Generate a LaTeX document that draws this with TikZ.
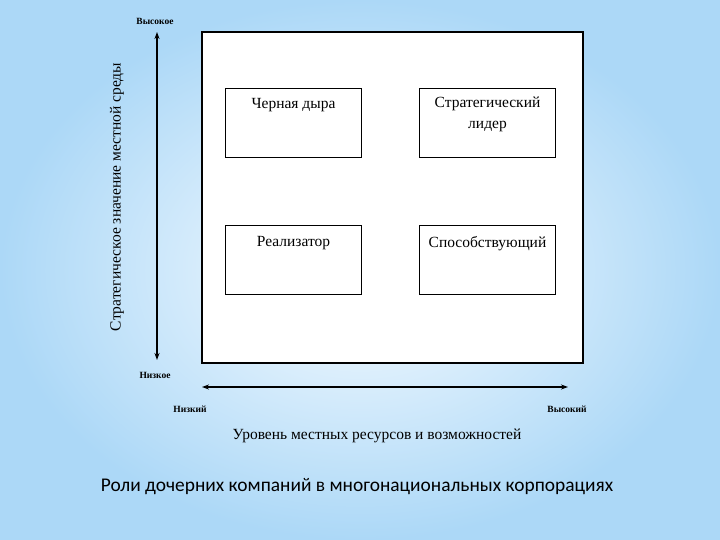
\documentclass[tikz,border=0pt]{standalone}
\usepackage{fontspec}
\setmainfont{Liberation Serif}
\newfontfamily\capfont{Carlito}
\usetikzlibrary{arrows.meta}
\definecolor{bgedge}{RGB}{172,216,247}
\definecolor{bgmid}{RGB}{248,252,255}
\begin{document}
\begin{tikzpicture}[x=1pt,y=-1pt,
  role/.style={draw=black,line width=1.6pt,fill=white,minimum width=136pt,minimum height=69pt,inner sep=0pt},
  rolelabel/.style={font=\fontsize{15.5}{21}\selectfont,align=center,anchor=north},
  axisarrow/.style={line width=1.3pt,{Stealth[length=7pt,width=5pt]}-{Stealth[length=7pt,width=5pt]}},
  ticklabel/.style={font=\fontsize{9.5}{10}\selectfont\bfseries}
]
\useasboundingbox (0,0) rectangle (720,540);
\shade[inner color=bgmid,outer color=bgedge] (0,0) rectangle (720,540);
% outer square
\node[draw=black,line width=1.5pt,fill=white,minimum width=381pt,minimum height=331pt,inner sep=0pt] (frame) at (392.5,197.5) {};
% role boxes
\node[role] (bh) at (293.5,123) {};
\node[rolelabel] at (293.5,95) {Черная дыра};
\node[role] (sl) at (487.5,123) {};
\node[rolelabel] at (487.5,93) {Стратегический\\лидер};
\node[role] (re) at (293.5,260) {};
\node[rolelabel] at (293.5,233) {Реализатор};
\node[role] (sp) at (487.5,260) {};
\node[rolelabel] at (487.5,233) {Способствующий};
% vertical axis
\coordinate (vtop) at (157,32);
\coordinate (vbot) at (157,360);
\draw[axisarrow] (vbot) -- (vtop);
\node[ticklabel] (vhigh) at (155,21) {Высокое};
\node[ticklabel] (vlow) at (155,375) {Низкое};
\node[rotate=90,font=\fontsize{15.5}{17}\selectfont] (vlab) at (117,197) {Стратегическое значение местной среды};
% horizontal axis
\coordinate (hl) at (202,387);
\coordinate (hr) at (568,387);
\draw[axisarrow] (hl) -- (hr);
\node[ticklabel] (hlow) at (190,409) {Низкий};
\node[ticklabel] (hhigh) at (567,409) {Высокий};
\node[font=\fontsize{15.5}{17}\selectfont] (hlab) at (377,436) {Уровень местных ресурсов и возможностей};
% caption
\node[font=\capfont\fontsize{19.4}{22}\selectfont] (cap) at (357,487) {Роли дочерних компаний в многонациональных корпорациях};
\end{tikzpicture}
\end{document}
